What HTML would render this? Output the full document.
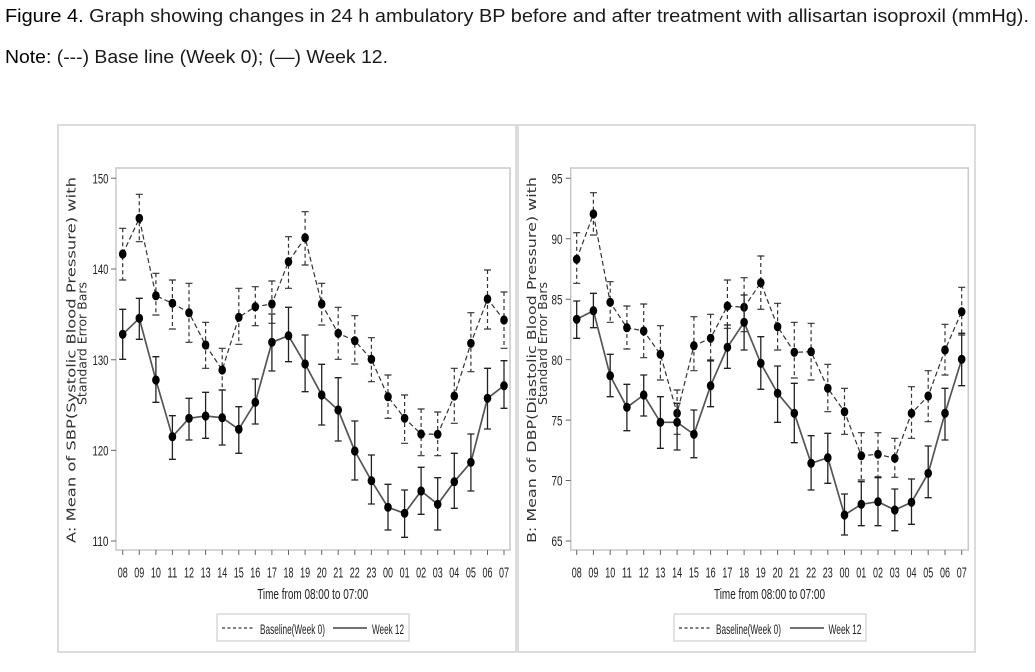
<!DOCTYPE html>
<html><head><meta charset="utf-8"><style>
html,body{margin:0;padding:0;background:#fff;}
svg{display:block;}
.t{font-family:"Liberation Sans Narrow","Liberation Sans",sans-serif;fill:#222;}
.ttl{font-family:"Liberation Sans",sans-serif;fill:#1a1a1a;}
.yl{font-family:"DejaVu Sans","Liberation Sans",sans-serif;fill:#333;font-size:12.5px;}
</style></head><body>
<svg width="1035" height="672" viewBox="0 0 1035 672" xmlns="http://www.w3.org/2000/svg">
<rect width="1035" height="672" fill="#fff"/>
<text class="ttl" x="5" y="22" font-size="18" textLength="1024" lengthAdjust="spacingAndGlyphs"><tspan fill="#000">Figure 4.</tspan> Graph showing changes in 24 h ambulatory BP before and after treatment with allisartan isoproxil (mmHg).</text>
<text class="ttl" x="5" y="63" font-size="18" textLength="383" lengthAdjust="spacingAndGlyphs"><tspan fill="#000">Note:</tspan> (---) Base line (Week 0); (—) Week 12.</text>

<!-- panels -->
<rect x="58" y="125" width="458" height="527" fill="none" stroke="#dcdcdc" stroke-width="2"/>
<rect x="518" y="125" width="457" height="527" fill="none" stroke="#dcdcdc" stroke-width="2"/>

<!-- LEFT CHART -->
<rect x="116" y="168" width="394" height="382" fill="none" stroke="#c8c8c8" stroke-width="1.5"/>
<g stroke="#666" stroke-width="1">
<path d="M111 178.3h5M111 269h5M111 359.7h5M111 450.4h5M111 541h5"/>
<path d="M122.7 550v5M139.3 550v5M155.9 550v5M172.4 550v5M189 550v5M205.6 550v5M222.2 550v5M238.8 550v5M255.3 550v5M271.9 550v5M288.5 550v5M305.1 550v5M321.7 550v5M338.2 550v5M354.8 550v5M371.4 550v5M388 550v5M404.6 550v5M421.1 550v5M437.7 550v5M454.3 550v5M470.9 550v5M487.5 550v5M504 550v5"/>
</g>
<g class="t" font-size="14" text-anchor="end">
<text x="108.5" y="183.5" textLength="16" lengthAdjust="spacingAndGlyphs">150</text>
<text x="108.5" y="274.2" textLength="16" lengthAdjust="spacingAndGlyphs">140</text>
<text x="108.5" y="364.9" textLength="16" lengthAdjust="spacingAndGlyphs">130</text>
<text x="108.5" y="455.6" textLength="16" lengthAdjust="spacingAndGlyphs">120</text>
<text x="108.5" y="546.2" textLength="16" lengthAdjust="spacingAndGlyphs">110</text>
</g>
<g class="t" font-size="15" text-anchor="middle">
<text x="122.7" y="577.3" textLength="10" lengthAdjust="spacingAndGlyphs">08</text>
<text x="139.3" y="577.3" textLength="10" lengthAdjust="spacingAndGlyphs">09</text>
<text x="155.9" y="577.3" textLength="10" lengthAdjust="spacingAndGlyphs">10</text>
<text x="172.4" y="577.3" textLength="10" lengthAdjust="spacingAndGlyphs">11</text>
<text x="189" y="577.3" textLength="10" lengthAdjust="spacingAndGlyphs">12</text>
<text x="205.6" y="577.3" textLength="10" lengthAdjust="spacingAndGlyphs">13</text>
<text x="222.2" y="577.3" textLength="10" lengthAdjust="spacingAndGlyphs">14</text>
<text x="238.8" y="577.3" textLength="10" lengthAdjust="spacingAndGlyphs">15</text>
<text x="255.3" y="577.3" textLength="10" lengthAdjust="spacingAndGlyphs">16</text>
<text x="271.9" y="577.3" textLength="10" lengthAdjust="spacingAndGlyphs">17</text>
<text x="288.5" y="577.3" textLength="10" lengthAdjust="spacingAndGlyphs">18</text>
<text x="305.1" y="577.3" textLength="10" lengthAdjust="spacingAndGlyphs">19</text>
<text x="321.7" y="577.3" textLength="10" lengthAdjust="spacingAndGlyphs">20</text>
<text x="338.2" y="577.3" textLength="10" lengthAdjust="spacingAndGlyphs">21</text>
<text x="354.8" y="577.3" textLength="10" lengthAdjust="spacingAndGlyphs">22</text>
<text x="371.4" y="577.3" textLength="10" lengthAdjust="spacingAndGlyphs">23</text>
<text x="388" y="577.3" textLength="10" lengthAdjust="spacingAndGlyphs">00</text>
<text x="404.6" y="577.3" textLength="10" lengthAdjust="spacingAndGlyphs">01</text>
<text x="421.1" y="577.3" textLength="10" lengthAdjust="spacingAndGlyphs">02</text>
<text x="437.7" y="577.3" textLength="10" lengthAdjust="spacingAndGlyphs">03</text>
<text x="454.3" y="577.3" textLength="10" lengthAdjust="spacingAndGlyphs">04</text>
<text x="470.9" y="577.3" textLength="10" lengthAdjust="spacingAndGlyphs">05</text>
<text x="487.5" y="577.3" textLength="10" lengthAdjust="spacingAndGlyphs">06</text>
<text x="504" y="577.3" textLength="10" lengthAdjust="spacingAndGlyphs">07</text>
</g>
<text class="t" x="312.7" y="599" font-size="15" text-anchor="middle" textLength="111" lengthAdjust="spacingAndGlyphs">Time from 08:00 to 07:00</text>
<text class="yl" transform="translate(75.5,543) rotate(-90)" x="0" y="0" textLength="366" lengthAdjust="spacingAndGlyphs">A: Mean of SBP(Systolic Blood Pressure) with</text>
<text class="yl" transform="translate(86.5,405) rotate(-90)" x="0" y="0" textLength="123" lengthAdjust="spacingAndGlyphs">Standard Error Bars</text>
<!-- legend left -->
<rect x="217" y="614" width="192" height="27" fill="none" stroke="#cfcfcf" stroke-width="1.2"/>
<line x1="222" y1="628" x2="255" y2="628" stroke="#333" stroke-width="1.3" stroke-dasharray="3,2.5"/>
<text class="t" x="260" y="634" font-size="14" textLength="65" lengthAdjust="spacingAndGlyphs">Baseline(Week 0)</text>
<line x1="333" y1="628" x2="367" y2="628" stroke="#444" stroke-width="1.5"/>
<text class="t" x="372" y="634" font-size="14" textLength="32" lengthAdjust="spacingAndGlyphs">Week 12</text>

<!-- left baseline -->
<g fill="none" stroke="#333" stroke-width="1.2">
<polyline stroke-dasharray="5,3" points="122.7,254 139.3,218.3 155.9,295.7 172.4,303.3 189,312.7 205.6,345 222.2,370 238.8,317.3 255.3,306.7 271.9,304 288.5,261.7 305.1,237.7 321.7,304 338.2,333.3 354.8,340.7 371.4,359.3 388,396.7 404.6,418.3 421.1,434 437.7,434.3 454.3,396 470.9,343.3 487.5,299 504,320"/>
<path stroke-dasharray="4,3" d="M122.7 228.3V280M139.3 194.3V241.7M155.9 273.3V315M172.4 280V329M189 283.3V342.3M205.6 322.3V368.3M222.2 348.3V390M238.8 288.3V344.3M255.3 286.7V325.7M271.9 281V323.3M288.5 236.7V288.3M305.1 211.7V265M321.7 283.3V325M338.2 307.3V359.3M354.8 315.7V364M371.4 337.7V381.7M388 375V418.3M404.6 395V443.3M421.1 409V455.7M437.7 412V455.7M454.3 368.3V423.3M470.9 312.7V371.7M487.5 270V329M504 292V348.3"/>
<path d="M119.2 228.3h7M119.2 280h7M135.8 194.3h7M135.8 241.7h7M152.4 273.3h7M152.4 315h7M168.9 280h7M168.9 329h7M185.5 283.3h7M185.5 342.3h7M202.1 322.3h7M202.1 368.3h7M218.7 348.3h7M218.7 390h7M235.3 288.3h7M235.3 344.3h7M251.8 286.7h7M251.8 325.7h7M268.4 281h7M268.4 323.3h7M285 236.7h7M285 288.3h7M301.6 211.7h7M301.6 265h7M318.2 283.3h7M318.2 325h7M334.7 307.3h7M334.7 359.3h7M351.3 315.7h7M351.3 364h7M367.9 337.7h7M367.9 381.7h7M384.5 375h7M384.5 418.3h7M401.1 395h7M401.1 443.3h7M417.6 409h7M417.6 455.7h7M434.2 412h7M434.2 455.7h7M450.8 368.3h7M450.8 423.3h7M467.4 312.7h7M467.4 371.7h7M484 270h7M484 329h7M500.5 292h7M500.5 348.3h7"/>
</g>
<g fill="#000">
<ellipse cx="122.7" cy="254" rx="3.8" ry="4.6"/><ellipse cx="139.3" cy="218.3" rx="3.8" ry="4.6"/><ellipse cx="155.9" cy="295.7" rx="3.8" ry="4.6"/><ellipse cx="172.4" cy="303.3" rx="3.8" ry="4.6"/><ellipse cx="189" cy="312.7" rx="3.8" ry="4.6"/><ellipse cx="205.6" cy="345" rx="3.8" ry="4.6"/><ellipse cx="222.2" cy="370" rx="3.8" ry="4.6"/><ellipse cx="238.8" cy="317.3" rx="3.8" ry="4.6"/><ellipse cx="255.3" cy="306.7" rx="3.8" ry="4.6"/><ellipse cx="271.9" cy="304" rx="3.8" ry="4.6"/><ellipse cx="288.5" cy="261.7" rx="3.8" ry="4.6"/><ellipse cx="305.1" cy="237.7" rx="3.8" ry="4.6"/><ellipse cx="321.7" cy="304" rx="3.8" ry="4.6"/><ellipse cx="338.2" cy="333.3" rx="3.8" ry="4.6"/><ellipse cx="354.8" cy="340.7" rx="3.8" ry="4.6"/><ellipse cx="371.4" cy="359.3" rx="3.8" ry="4.6"/><ellipse cx="388" cy="396.7" rx="3.8" ry="4.6"/><ellipse cx="404.6" cy="418.3" rx="3.8" ry="4.6"/><ellipse cx="421.1" cy="434" rx="3.8" ry="4.6"/><ellipse cx="437.7" cy="434.3" rx="3.8" ry="4.6"/><ellipse cx="454.3" cy="396" rx="3.8" ry="4.6"/><ellipse cx="470.9" cy="343.3" rx="3.8" ry="4.6"/><ellipse cx="487.5" cy="299" rx="3.8" ry="4.6"/><ellipse cx="504" cy="320" rx="3.8" ry="4.6"/>
</g>
<!-- left week 12 -->
<g fill="none">
<polyline stroke="#555" stroke-width="1.7" points="122.7,334.3 139.3,318.3 155.9,380 172.4,436.7 189,418.3 205.6,416 222.2,417.7 238.8,429.3 255.3,402.3 271.9,342.3 288.5,335.7 305.1,364 321.7,395 338.2,410 354.8,451 371.4,480.7 388,507.3 404.6,513.3 421.1,491 437.7,504.3 454.3,481.7 470.9,462.3 487.5,398.3 504,385.7"/>
<path stroke="#222" stroke-width="1.3" d="M122.7 309.3V359.3M119.2 309.3h7M119.2 359.3h7M139.3 298.3V339.3M135.8 298.3h7M135.8 339.3h7M155.9 356.7V402.3M152.4 356.7h7M152.4 402.3h7M172.4 415.7V459.3M168.9 415.7h7M168.9 459.3h7M189 398.3V440M185.5 398.3h7M185.5 440h7M205.6 392.3V438.3M202.1 392.3h7M202.1 438.3h7M222.2 390V445M218.7 390h7M218.7 445h7M238.8 406.7V453.3M235.3 406.7h7M235.3 453.3h7M255.3 379V424M251.8 379h7M251.8 424h7M271.9 314V371M268.4 314h7M268.4 371h7M288.5 307.3V361.7M285 307.3h7M285 361.7h7M305.1 335V391.7M301.6 335h7M301.6 391.7h7M321.7 364.3V425M318.2 364.3h7M318.2 425h7M338.2 377.7V441M334.7 377.7h7M334.7 441h7M354.8 421V480M351.3 421h7M351.3 480h7M371.4 455V504M367.9 455h7M367.9 504h7M388 484.3V530M384.5 484.3h7M384.5 530h7M404.6 490V537.3M401.1 490h7M401.1 537.3h7M421.1 467.3V514.3M417.6 467.3h7M417.6 514.3h7M437.7 477.7V530M434.2 477.7h7M434.2 530h7M454.3 453.3V508.3M450.8 453.3h7M450.8 508.3h7M470.9 434V491M467.4 434h7M467.4 491h7M487.5 368.3V429M484 368.3h7M484 429h7M504 360.7V408.3M500.5 360.7h7M500.5 408.3h7"/>
</g>
<g fill="#000">
<ellipse cx="122.7" cy="334.3" rx="3.8" ry="4.6"/><ellipse cx="139.3" cy="318.3" rx="3.8" ry="4.6"/><ellipse cx="155.9" cy="380" rx="3.8" ry="4.6"/><ellipse cx="172.4" cy="436.7" rx="3.8" ry="4.6"/><ellipse cx="189" cy="418.3" rx="3.8" ry="4.6"/><ellipse cx="205.6" cy="416" rx="3.8" ry="4.6"/><ellipse cx="222.2" cy="417.7" rx="3.8" ry="4.6"/><ellipse cx="238.8" cy="429.3" rx="3.8" ry="4.6"/><ellipse cx="255.3" cy="402.3" rx="3.8" ry="4.6"/><ellipse cx="271.9" cy="342.3" rx="3.8" ry="4.6"/><ellipse cx="288.5" cy="335.7" rx="3.8" ry="4.6"/><ellipse cx="305.1" cy="364" rx="3.8" ry="4.6"/><ellipse cx="321.7" cy="395" rx="3.8" ry="4.6"/><ellipse cx="338.2" cy="410" rx="3.8" ry="4.6"/><ellipse cx="354.8" cy="451" rx="3.8" ry="4.6"/><ellipse cx="371.4" cy="480.7" rx="3.8" ry="4.6"/><ellipse cx="388" cy="507.3" rx="3.8" ry="4.6"/><ellipse cx="404.6" cy="513.3" rx="3.8" ry="4.6"/><ellipse cx="421.1" cy="491" rx="3.8" ry="4.6"/><ellipse cx="437.7" cy="504.3" rx="3.8" ry="4.6"/><ellipse cx="454.3" cy="481.7" rx="3.8" ry="4.6"/><ellipse cx="470.9" cy="462.3" rx="3.8" ry="4.6"/><ellipse cx="487.5" cy="398.3" rx="3.8" ry="4.6"/><ellipse cx="504" cy="385.7" rx="3.8" ry="4.6"/>
</g>

<!-- RIGHT CHART -->
<rect x="570.7" y="168" width="397.6" height="382" fill="none" stroke="#c8c8c8" stroke-width="1.5"/>
<g stroke="#666" stroke-width="1">
<path d="M565.7 178.3h5M565.7 238.75h5M565.7 299.2h5M565.7 359.65h5M565.7 420.1h5M565.7 480.55h5M565.7 541h5"/>
<path d="M576.7 550v5M593.4 550v5M610.2 550v5M626.9 550v5M643.7 550v5M660.4 550v5M677.1 550v5M693.9 550v5M710.6 550v5M727.4 550v5M744.1 550v5M760.8 550v5M777.6 550v5M794.3 550v5M811.1 550v5M827.8 550v5M844.5 550v5M861.3 550v5M878 550v5M894.8 550v5M911.5 550v5M928.2 550v5M945 550v5M961.7 550v5"/>
</g>
<g class="t" font-size="14" text-anchor="end">
<text x="562.5" y="183.5" textLength="11" lengthAdjust="spacingAndGlyphs">95</text>
<text x="562.5" y="244" textLength="11" lengthAdjust="spacingAndGlyphs">90</text>
<text x="562.5" y="304.4" textLength="11" lengthAdjust="spacingAndGlyphs">85</text>
<text x="562.5" y="364.9" textLength="11" lengthAdjust="spacingAndGlyphs">80</text>
<text x="562.5" y="425.3" textLength="11" lengthAdjust="spacingAndGlyphs">75</text>
<text x="562.5" y="485.7" textLength="11" lengthAdjust="spacingAndGlyphs">70</text>
<text x="562.5" y="546.2" textLength="11" lengthAdjust="spacingAndGlyphs">65</text>
</g>
<g class="t" font-size="15" text-anchor="middle">
<text x="576.7" y="577.3" textLength="10" lengthAdjust="spacingAndGlyphs">08</text>
<text x="593.4" y="577.3" textLength="10" lengthAdjust="spacingAndGlyphs">09</text>
<text x="610.2" y="577.3" textLength="10" lengthAdjust="spacingAndGlyphs">10</text>
<text x="626.9" y="577.3" textLength="10" lengthAdjust="spacingAndGlyphs">11</text>
<text x="643.7" y="577.3" textLength="10" lengthAdjust="spacingAndGlyphs">12</text>
<text x="660.4" y="577.3" textLength="10" lengthAdjust="spacingAndGlyphs">13</text>
<text x="677.1" y="577.3" textLength="10" lengthAdjust="spacingAndGlyphs">14</text>
<text x="693.9" y="577.3" textLength="10" lengthAdjust="spacingAndGlyphs">15</text>
<text x="710.6" y="577.3" textLength="10" lengthAdjust="spacingAndGlyphs">16</text>
<text x="727.4" y="577.3" textLength="10" lengthAdjust="spacingAndGlyphs">17</text>
<text x="744.1" y="577.3" textLength="10" lengthAdjust="spacingAndGlyphs">18</text>
<text x="760.8" y="577.3" textLength="10" lengthAdjust="spacingAndGlyphs">19</text>
<text x="777.6" y="577.3" textLength="10" lengthAdjust="spacingAndGlyphs">20</text>
<text x="794.3" y="577.3" textLength="10" lengthAdjust="spacingAndGlyphs">21</text>
<text x="811.1" y="577.3" textLength="10" lengthAdjust="spacingAndGlyphs">22</text>
<text x="827.8" y="577.3" textLength="10" lengthAdjust="spacingAndGlyphs">23</text>
<text x="844.5" y="577.3" textLength="10" lengthAdjust="spacingAndGlyphs">00</text>
<text x="861.3" y="577.3" textLength="10" lengthAdjust="spacingAndGlyphs">01</text>
<text x="878" y="577.3" textLength="10" lengthAdjust="spacingAndGlyphs">02</text>
<text x="894.8" y="577.3" textLength="10" lengthAdjust="spacingAndGlyphs">03</text>
<text x="911.5" y="577.3" textLength="10" lengthAdjust="spacingAndGlyphs">04</text>
<text x="928.2" y="577.3" textLength="10" lengthAdjust="spacingAndGlyphs">05</text>
<text x="945" y="577.3" textLength="10" lengthAdjust="spacingAndGlyphs">06</text>
<text x="961.7" y="577.3" textLength="10" lengthAdjust="spacingAndGlyphs">07</text>
</g>
<text class="t" x="769.5" y="599" font-size="15" text-anchor="middle" textLength="111" lengthAdjust="spacingAndGlyphs">Time from 08:00 to 07:00</text>
<text class="yl" transform="translate(536,543) rotate(-90)" x="0" y="0" textLength="366" lengthAdjust="spacingAndGlyphs">B: Mean of DBP(Diastolic Blood Pressure) with</text>
<text class="yl" transform="translate(547,405) rotate(-90)" x="0" y="0" textLength="123" lengthAdjust="spacingAndGlyphs">Standard Error Bars</text>
<!-- legend right -->
<rect x="674" y="614" width="192" height="27" fill="none" stroke="#cfcfcf" stroke-width="1.2"/>
<line x1="679" y1="628" x2="711" y2="628" stroke="#333" stroke-width="1.3" stroke-dasharray="3,2.5"/>
<text class="t" x="716" y="634" font-size="14" textLength="65" lengthAdjust="spacingAndGlyphs">Baseline(Week 0)</text>
<line x1="790" y1="628" x2="824" y2="628" stroke="#444" stroke-width="1.5"/>
<text class="t" x="828.5" y="634" font-size="14" textLength="33" lengthAdjust="spacingAndGlyphs">Week 12</text>

<!-- right baseline -->
<g fill="none" stroke="#333" stroke-width="1.2">
<polyline stroke-dasharray="5,3" points="576.7,259.3 593.4,214 610.2,302.3 626.9,327.7 643.7,331 660.4,354.3 677.1,413.3 693.9,345.7 710.6,338.3 727.4,306 744.1,307.3 760.8,282.7 777.6,326.7 794.3,352.3 811.1,351.7 827.8,388.3 844.5,411.7 861.3,455.7 878,454.3 894.8,458.3 911.5,413.3 928.2,396 945,350 961.7,311.7"/>
<path stroke-dasharray="4,3" d="M576.7 232.7V283.3M593.4 192.7V235M610.2 281.7V322.3M626.9 306V349M643.7 304V357.7M660.4 325.7V380M677.1 390V434.3M693.9 316.7V370.7M710.6 314.3V361M727.4 280V328.3M744.1 277.7V331.7M760.8 256V309.3M777.6 303.3V350M794.3 322.3V378M811.1 323.3V380M827.8 364.3V411.7M844.5 388.3V434.3M861.3 432.7V480M878 432.7V476.7M894.8 438.3V477.3M911.5 386.7V438.3M928.2 370.7V421.7M945 324.3V375M961.7 287.3V335"/>
<path d="M573.2 232.7h7M573.2 283.3h7M589.9 192.7h7M589.9 235h7M606.7 281.7h7M606.7 322.3h7M623.4 306h7M623.4 349h7M640.2 304h7M640.2 357.7h7M656.9 325.7h7M656.9 380h7M673.6 390h7M673.6 434.3h7M690.4 316.7h7M690.4 370.7h7M707.1 314.3h7M707.1 361h7M723.9 280h7M723.9 328.3h7M740.6 277.7h7M740.6 331.7h7M757.3 256h7M757.3 309.3h7M774.1 303.3h7M774.1 350h7M790.8 322.3h7M790.8 378h7M807.6 323.3h7M807.6 380h7M824.3 364.3h7M824.3 411.7h7M841 388.3h7M841 434.3h7M857.8 432.7h7M857.8 480h7M874.5 432.7h7M874.5 476.7h7M891.3 438.3h7M891.3 477.3h7M908 386.7h7M908 438.3h7M924.7 370.7h7M924.7 421.7h7M941.5 324.3h7M941.5 375h7M958.2 287.3h7M958.2 335h7"/>
</g>
<g fill="#000">
<ellipse cx="576.7" cy="259.3" rx="3.8" ry="4.6"/><ellipse cx="593.4" cy="214" rx="3.8" ry="4.6"/><ellipse cx="610.2" cy="302.3" rx="3.8" ry="4.6"/><ellipse cx="626.9" cy="327.7" rx="3.8" ry="4.6"/><ellipse cx="643.7" cy="331" rx="3.8" ry="4.6"/><ellipse cx="660.4" cy="354.3" rx="3.8" ry="4.6"/><ellipse cx="677.1" cy="413.3" rx="3.8" ry="4.6"/><ellipse cx="693.9" cy="345.7" rx="3.8" ry="4.6"/><ellipse cx="710.6" cy="338.3" rx="3.8" ry="4.6"/><ellipse cx="727.4" cy="306" rx="3.8" ry="4.6"/><ellipse cx="744.1" cy="307.3" rx="3.8" ry="4.6"/><ellipse cx="760.8" cy="282.7" rx="3.8" ry="4.6"/><ellipse cx="777.6" cy="326.7" rx="3.8" ry="4.6"/><ellipse cx="794.3" cy="352.3" rx="3.8" ry="4.6"/><ellipse cx="811.1" cy="351.7" rx="3.8" ry="4.6"/><ellipse cx="827.8" cy="388.3" rx="3.8" ry="4.6"/><ellipse cx="844.5" cy="411.7" rx="3.8" ry="4.6"/><ellipse cx="861.3" cy="455.7" rx="3.8" ry="4.6"/><ellipse cx="878" cy="454.3" rx="3.8" ry="4.6"/><ellipse cx="894.8" cy="458.3" rx="3.8" ry="4.6"/><ellipse cx="911.5" cy="413.3" rx="3.8" ry="4.6"/><ellipse cx="928.2" cy="396" rx="3.8" ry="4.6"/><ellipse cx="945" cy="350" rx="3.8" ry="4.6"/><ellipse cx="961.7" cy="311.7" rx="3.8" ry="4.6"/>
</g>
<!-- right week 12 -->
<g fill="none">
<polyline stroke="#555" stroke-width="1.7" points="576.7,319.3 593.4,310.7 610.2,375.7 626.9,407.3 643.7,395 660.4,422.3 677.1,422.3 693.9,434.3 710.6,385.7 727.4,347.3 744.1,322.3 760.8,363.3 777.6,393.3 794.3,413.3 811.1,463.3 827.8,457.7 844.5,515 861.3,504.3 878,501.7 894.8,510 911.5,502.3 928.2,473.3 945,413.3 961.7,359.3"/>
<path stroke="#222" stroke-width="1.3" d="M576.7 301V338.3M573.2 301h7M573.2 338.3h7M593.4 293.3V327.7M589.9 293.3h7M589.9 327.7h7M610.2 354.3V396.7M606.7 354.3h7M606.7 396.7h7M626.9 384.3V430.7M623.4 384.3h7M623.4 430.7h7M643.7 375V416M640.2 375h7M640.2 416h7M660.4 396.7V448.3M656.9 396.7h7M656.9 448.3h7M677.1 403.3V450M673.6 403.3h7M673.6 450h7M693.9 410V457.7M690.4 410h7M690.4 457.7h7M710.6 360V406.7M707.1 360h7M707.1 406.7h7M727.4 325V368.3M723.9 325h7M723.9 368.3h7M744.1 295V350M740.6 295h7M740.6 350h7M760.8 336.7V389.3M757.3 336.7h7M757.3 389.3h7M777.6 366V422.3M774.1 366h7M774.1 422.3h7M794.3 383.3V442.7M790.8 383.3h7M790.8 442.7h7M811.1 435.7V490M807.6 435.7h7M807.6 490h7M827.8 433.3V483.3M824.3 433.3h7M824.3 483.3h7M844.5 494V535M841 494h7M841 535h7M861.3 481.7V525.7M857.8 481.7h7M857.8 525.7h7M878 477.7V525.7M874.5 477.7h7M874.5 525.7h7M894.8 489V530.7M891.3 489h7M891.3 530.7h7M911.5 479V524.3M908 479h7M908 524.3h7M928.2 446V497.7M924.7 446h7M924.7 497.7h7M945 388.3V440M941.5 388.3h7M941.5 440h7M961.7 333.3V385.7M958.2 333.3h7M958.2 385.7h7"/>
</g>
<g fill="#000">
<ellipse cx="576.7" cy="319.3" rx="3.8" ry="4.6"/><ellipse cx="593.4" cy="310.7" rx="3.8" ry="4.6"/><ellipse cx="610.2" cy="375.7" rx="3.8" ry="4.6"/><ellipse cx="626.9" cy="407.3" rx="3.8" ry="4.6"/><ellipse cx="643.7" cy="395" rx="3.8" ry="4.6"/><ellipse cx="660.4" cy="422.3" rx="3.8" ry="4.6"/><ellipse cx="677.1" cy="422.3" rx="3.8" ry="4.6"/><ellipse cx="693.9" cy="434.3" rx="3.8" ry="4.6"/><ellipse cx="710.6" cy="385.7" rx="3.8" ry="4.6"/><ellipse cx="727.4" cy="347.3" rx="3.8" ry="4.6"/><ellipse cx="744.1" cy="322.3" rx="3.8" ry="4.6"/><ellipse cx="760.8" cy="363.3" rx="3.8" ry="4.6"/><ellipse cx="777.6" cy="393.3" rx="3.8" ry="4.6"/><ellipse cx="794.3" cy="413.3" rx="3.8" ry="4.6"/><ellipse cx="811.1" cy="463.3" rx="3.8" ry="4.6"/><ellipse cx="827.8" cy="457.7" rx="3.8" ry="4.6"/><ellipse cx="844.5" cy="515" rx="3.8" ry="4.6"/><ellipse cx="861.3" cy="504.3" rx="3.8" ry="4.6"/><ellipse cx="878" cy="501.7" rx="3.8" ry="4.6"/><ellipse cx="894.8" cy="510" rx="3.8" ry="4.6"/><ellipse cx="911.5" cy="502.3" rx="3.8" ry="4.6"/><ellipse cx="928.2" cy="473.3" rx="3.8" ry="4.6"/><ellipse cx="945" cy="413.3" rx="3.8" ry="4.6"/><ellipse cx="961.7" cy="359.3" rx="3.8" ry="4.6"/>
</g>
</svg>
</body></html>
